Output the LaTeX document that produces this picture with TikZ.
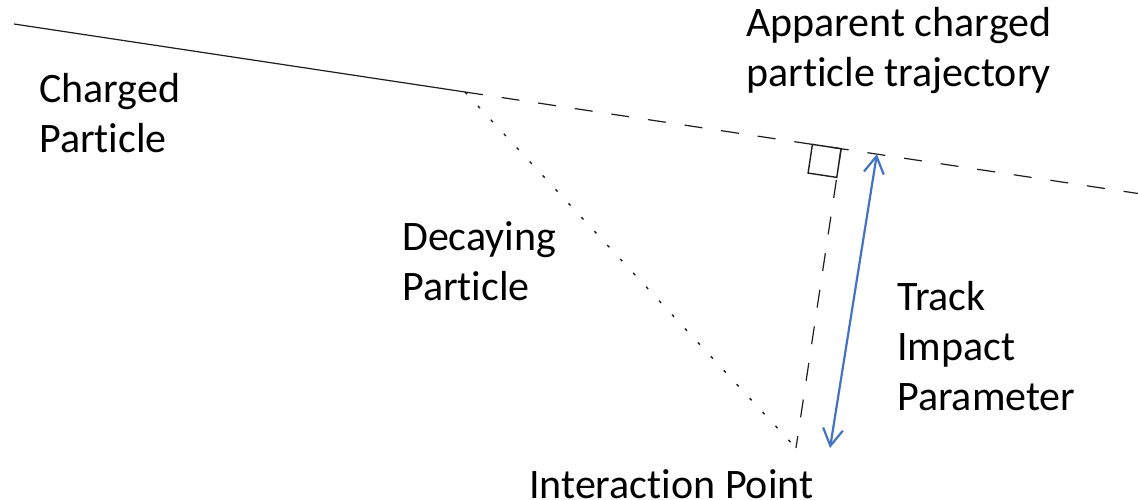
\documentclass[tikz,border=0pt]{standalone}
\usepackage{fontspec}
\setmainfont{Carlito}[RawFeature=-liga]
\usetikzlibrary{calc,arrows.meta}
\definecolor{trackblue}{RGB}{68,114,196}
\definecolor{ink}{RGB}{30,30,30}
\begin{document}
\begin{tikzpicture}[x=1pt,y=-1pt,
  label/.style={inner sep=0pt,anchor=base west,align=left,
    font=\fontsize{42}{50}\selectfont,text=black},
  track/.style={draw=ink,line width=1.2pt},
  apparent/.style={draw=ink,line width=1.2pt,dash pattern=on 18pt off 19pt},
  decay/.style={draw=ink,line width=1.4pt,dash pattern=on 3pt off 16pt},
  ipline/.style={draw=ink,line width=1.2pt,dash pattern=on 18pt off 19pt,dash phase=6pt},
  impact/.style={draw=trackblue,line width=2.2pt,
    {Straight Barb[length=17pt,width=20pt,line width=2.2pt]}-{Straight Barb[length=17pt,width=20pt,line width=2.2pt]}}
]
  \fill[white] (0,0) rectangle (1138,500);
  \useasboundingbox (0,0) rectangle (1138,500);

  % key points
  \coordinate (start) at (14,24);
  \coordinate (kink) at (465,92);
  \coordinate (far) at (1138,193.5);
  \coordinate (ip) at (796,448);
  \coordinate (foot) at ($(kink)!(ip)!(far)$);
  \coordinate (arrtop) at ($(kink)!0.612!(far)$);
  \coordinate (arrbot) at (830,448);

  % charged particle and its extrapolated trajectory
  \draw[track] (start) -- (kink);
  \draw[apparent] (kink) -- (far);
  % decaying particle from the interaction point
  \draw[decay] (kink) -- (ip);
  % perpendicular from the interaction point to the trajectory
  \draw[ipline] (ip) -- (foot);
  % right-angle marker
  \coordinate (sqa) at ($(foot)!29pt!(kink)$);
  \coordinate (sqc) at ($(foot)!29pt!(ip)$);
  \draw[track,line width=1.4pt] (foot) -- (sqa) -- ($(sqa)+(sqc)-(foot)$) -- (sqc) -- cycle;

  % impact parameter arrow
  \draw[impact] (arrbot) -- (arrtop);

  % labels (anchored at the baseline of their last line)
  \node[label] (lcharged) at (39,153) {Charged\\Particle};
  \node[label] (lapparent) at (746,87) {Apparent charged\\particle trajectory};
  \node[label] (ldecay) at (402,300) {Decaying\\Particle};
  \node[label] (limpact) at (897,410) {Track\\Impact\\Parameter};
  \node[label] (lip) at (529,498) {Interaction Point};
\end{tikzpicture}
\end{document}
